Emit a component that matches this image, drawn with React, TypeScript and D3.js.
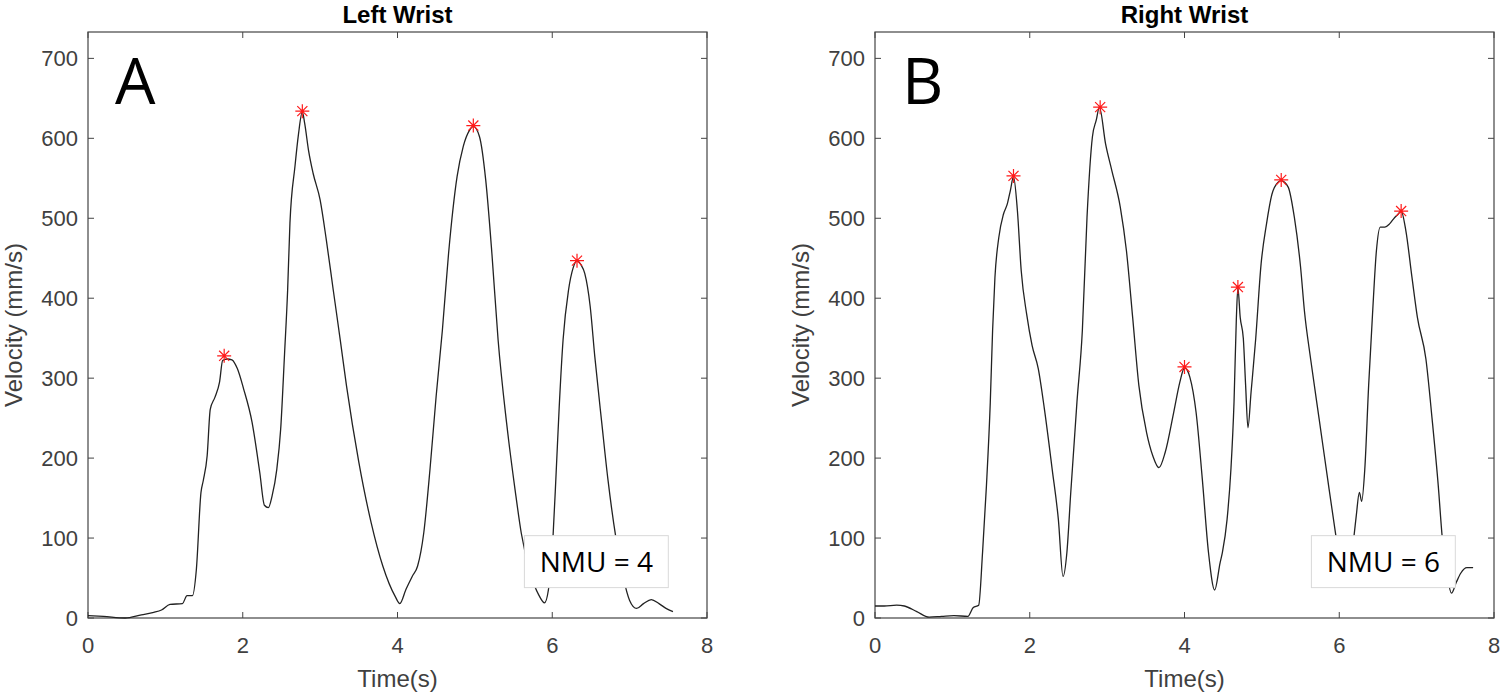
import { useEffect, useRef } from 'react'
import * as d3 from 'd3'

// Left wrist velocity trace (time in s, velocity in mm/s)
const leftTime = [
  0, 0.2, 0.48, 0.69, 0.85, 0.95, 1.06, 1.22, 1.28, 1.35, 1.4, 1.46, 1.49, 1.54, 1.58, 1.64, 1.7, 1.74, 1.8, 1.86,
  1.93, 2.01, 2.12, 2.22, 2.28, 2.33, 2.38, 2.44, 2.49, 2.54, 2.58, 2.61, 2.675, 2.72, 2.77, 2.8, 2.85, 2.91, 3.0,
  3.08, 3.17, 3.26, 3.34, 3.5, 3.66, 3.81, 3.97, 4.03, 4.11, 4.19, 4.26, 4.34, 4.42, 4.5, 4.58, 4.66, 4.77, 4.85,
  4.93, 4.98, 5.06, 5.14, 5.22, 5.3, 5.41, 5.52, 5.6, 5.72, 5.83, 5.9, 5.95, 6.01, 6.05, 6.09, 6.14, 6.21, 6.27,
  6.32, 6.37, 6.42, 6.49, 6.55, 6.64, 6.72, 6.82, 6.92, 7.0, 7.09, 7.18, 7.28, 7.38, 7.47, 7.56
]
const leftVelocity = [
  3, 2, 0, 4, 7, 10, 17, 18, 28, 28, 60, 157, 172, 203, 261, 276, 295, 322, 324, 323,
  312, 287, 245, 182, 141, 138, 153, 186, 236, 330, 410, 494, 565, 605, 633, 619, 585, 556, 523,
  473, 410, 348, 291, 195, 119, 65, 27, 18, 36, 52, 65, 107, 186, 278, 360, 456, 552, 590,
  610, 615, 602, 548, 456, 348, 244, 160, 106, 55, 28, 19, 35, 102, 181, 264, 348, 410, 438,
  447, 442, 431, 390, 327, 244, 173, 102, 50, 22, 12, 18, 23, 18, 12, 8
]
const leftPeakTime = [1.76, 2.77, 4.98, 6.32]
const leftPeakVelocity = [328, 634, 616, 447]

// Right wrist velocity trace
const rightTime = [
  0, 0.12, 0.28, 0.38, 0.54, 0.7, 0.86, 1.02, 1.2, 1.27, 1.34, 1.39, 1.44, 1.49, 1.52, 1.55, 1.6, 1.66, 1.71, 1.75,
  1.79, 1.84, 1.89, 1.96, 2.03, 2.11, 2.19, 2.29, 2.37, 2.43, 2.48, 2.53, 2.61, 2.68, 2.74, 2.81, 2.86, 2.9, 2.98,
  3.06, 3.17, 3.25, 3.33, 3.41, 3.51, 3.59, 3.67, 3.75, 3.86, 3.94, 4.0, 4.07, 4.15, 4.23, 4.31, 4.39, 4.46, 4.49,
  4.55, 4.6, 4.64, 4.67, 4.69, 4.72, 4.76, 4.79, 4.82, 4.86, 4.92, 4.99, 5.06, 5.13, 5.21, 5.25, 5.34, 5.42, 5.5,
  5.55, 5.63, 5.74, 5.85, 5.95, 6.03, 6.1, 6.16, 6.19, 6.22, 6.26, 6.29, 6.33, 6.38, 6.43, 6.48, 6.53, 6.59, 6.65,
  6.7, 6.76, 6.8, 6.86, 6.94, 7.01, 7.12, 7.2, 7.28, 7.33, 7.4, 7.45, 7.51, 7.57, 7.65, 7.73
]
const rightVelocity = [
  15, 15, 16, 15, 8, 1, 2, 3, 2, 13, 16, 82, 165, 270, 360, 426, 476, 505, 518, 535,
  552, 510, 434, 380, 341, 312, 261, 186, 123, 52, 82, 157, 270, 360, 501, 602, 623, 639, 593,
  560, 514, 459, 376, 291, 232, 203, 188, 207, 257, 295, 313, 301, 257, 174, 82, 35, 69, 82,
  123, 186, 270, 374, 413, 376, 350, 291, 238, 282, 349, 443, 493, 530, 545, 547, 539, 501, 439,
  384, 324, 249, 174, 107, 56, 40, 80, 102, 128, 157, 146, 186, 291, 380, 459, 489, 489, 493,
  499, 505, 509, 485, 426, 376, 324, 249, 165, 102, 50, 31, 44, 56, 63, 63
]
const rightPeakTime = [1.79, 2.91, 4.0, 4.69, 5.25, 6.8]
const rightPeakVelocity = [553, 639, 314, 414, 548, 509]

const xTicks = [0, 2, 4, 6, 8]
const yTicks = [0, 100, 200, 300, 400, 500, 600, 700]

interface PanelSpec {
  left: number
  title: string
  letter: string
  nmu: string
  time: number[]
  velocity: number[]
  peakTime: number[]
  peakVelocity: number[]
}

const panels: PanelSpec[] = [
  { left: 88, title: 'Left Wrist', letter: 'A', nmu: 'NMU = 4', time: leftTime, velocity: leftVelocity, peakTime: leftPeakTime, peakVelocity: leftPeakVelocity },
  { left: 875, title: 'Right Wrist', letter: 'B', nmu: 'NMU = 6', time: rightTime, velocity: rightVelocity, peakTime: rightPeakTime, peakVelocity: rightPeakVelocity }
]

const PLOT_W = 619
const TOP = 32
const BOTTOM = 618
const AXIS_COLOR = '#444'
const LABEL_COLOR = '#404040'
const TICK_FONT = '"Liberation Sans", Arial, sans-serif'

// MATLAB style '*' marker: plus + cross
function asterisk(r: number) {
  const k = r * 0.72
  return `M${-r},0H${r}M0,${-r}V${r}M${-k},${-k}L${k},${k}M${-k},${k}L${k},${-k}`
}

export default function App() {
  const svgRef = useRef<SVGSVGElement>(null)

  useEffect(() => {
    if (!svgRef.current) return
    const svg = d3.select(svgRef.current)
    svg.selectAll('*').remove()

    panels.forEach(p => {
      const x = d3.scaleLinear().domain([0, 8]).range([p.left, p.left + PLOT_W])
      const y = d3.scaleLinear().domain([0, 733]).range([BOTTOM, TOP])
      const g = svg.append('g')
      const data = p.time.map((t, i) => ({ t, v: p.velocity[i] }))
      const peaks = p.peakTime.map((t, i) => ({ t, v: p.peakVelocity[i] }))

      // Frame
      g.append('rect')
        .attr('x', x(0))
        .attr('y', TOP)
        .attr('width', PLOT_W)
        .attr('height', BOTTOM - TOP)
        .attr('fill', 'white')
        .attr('stroke', AXIS_COLOR)
        .attr('stroke-width', 1.2)

      // Inward ticks on all four sides
      xTicks.forEach(t => {
        g.append('line').attr('x1', x(t)).attr('x2', x(t)).attr('y1', BOTTOM).attr('y2', BOTTOM - 6)
          .attr('stroke', AXIS_COLOR)
        g.append('line').attr('x1', x(t)).attr('x2', x(t)).attr('y1', TOP).attr('y2', TOP + 6)
          .attr('stroke', AXIS_COLOR)
        g.append('text')
          .attr('x', x(t))
          .attr('y', 653)
          .attr('text-anchor', 'middle')
          .attr('font-family', TICK_FONT)
          .attr('font-size', 22)
          .attr('fill', LABEL_COLOR)
          .text(t)
      })
      yTicks.forEach(v => {
        g.append('line').attr('x1', x(0)).attr('x2', x(0) + 6).attr('y1', y(v)).attr('y2', y(v))
          .attr('stroke', AXIS_COLOR)
        g.append('line').attr('x1', x(8)).attr('x2', x(8) - 6).attr('y1', y(v)).attr('y2', y(v))
          .attr('stroke', AXIS_COLOR)
        g.append('text')
          .attr('x', x(0) - 10)
          .attr('y', y(v) + 8)
          .attr('text-anchor', 'end')
          .attr('font-family', TICK_FONT)
          .attr('font-size', 22)
          .attr('fill', LABEL_COLOR)
          .text(v)
      })

      // Velocity trace
      const line = d3.line<{ t: number; v: number }>()
        .x(d => x(d.t))
        .y(d => y(d.v))
        .curve(d3.curveMonotoneX)

      g.append('path')
        .datum(data)
        .attr('fill', 'none')
        .attr('stroke', '#222')
        .attr('stroke-width', 1.3)
        .attr('stroke-linejoin', 'round')
        .attr('d', line)

      // Detected peaks
      g.selectAll('.peak')
        .data(peaks)
        .enter()
        .append('path')
        .attr('class', 'peak')
        .attr('transform', d => `translate(${x(d.t)},${y(d.v)})`)
        .attr('d', asterisk(7))
        .attr('fill', 'none')
        .attr('stroke', '#ff1a1a')
        .attr('stroke-width', 1.2)

      // NMU box
      g.append('rect')
        .attr('x', x(5.64))
        .attr('y', y(103))
        .attr('width', x(7.5) - x(5.64))
        .attr('height', y(38) - y(103))
        .attr('fill', 'white')
        .attr('stroke', '#d9d9d9')
        .attr('stroke-width', 1)
      g.append('text')
        .attr('x', (x(5.64) + x(7.5)) / 2)
        .attr('y', y(57))
        .attr('text-anchor', 'middle')
        .attr('font-family', '"Open Sans", sans-serif')
        .attr('font-size', 28)
        .attr('fill', '#000')
        .text(p.nmu)

      // Panel letter
      g.append('text')
        .attr('x', x(0) + 27)
        .attr('y', 104)
        .attr('font-family', '"Open Sans", sans-serif')
        .attr('font-size', 64)
        .attr('fill', '#000')
        .text(p.letter)

      // Title
      g.append('text')
        .attr('x', x(4))
        .attr('y', 23)
        .attr('text-anchor', 'middle')
        .attr('font-family', TICK_FONT)
        .attr('font-weight', 'bold')
        .attr('font-size', 24)
        .attr('fill', '#000')
        .text(p.title)

      // Axis labels
      g.append('text')
        .attr('x', x(4))
        .attr('y', 687)
        .attr('text-anchor', 'middle')
        .attr('font-family', TICK_FONT)
        .attr('font-size', 24)
        .attr('fill', LABEL_COLOR)
        .text('Time(s)')
      g.append('text')
        .attr('transform', `translate(${x(0) - 66},${(TOP + BOTTOM) / 2}) rotate(-90)`)
        .attr('text-anchor', 'middle')
        .attr('font-family', TICK_FONT)
        .attr('font-size', 24)
        .attr('fill', LABEL_COLOR)
        .text('Velocity (mm/s)')
    })
  }, [])

  return (
    <svg
      ref={svgRef}
      width={1500}
      height={694}
      style={{ position: 'absolute', left: 0, top: 0, background: 'white' }}
    />
  )
}
